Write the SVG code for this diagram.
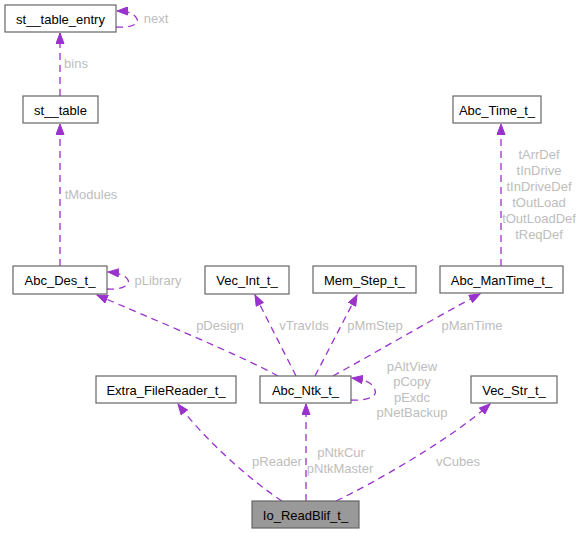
<svg xmlns="http://www.w3.org/2000/svg" width="581" height="533" viewBox="0 0 581 533">
<style>
.node rect{fill:#ffffff;stroke:#666666;stroke-width:1.2}
.node text{font-family:"Liberation Sans",Arial,sans-serif;font-size:13px;fill:#000000;text-anchor:middle}
#n_io rect{fill:#999999}
.edge{fill:none;stroke:#9a32cd;stroke-width:1.3;stroke-dasharray:7,5;marker-end:url(#ah)}
.lbl{font-family:"Liberation Sans",Arial,sans-serif;font-size:13px;fill:#bdbdbd;text-anchor:middle}
</style>
<defs>
<marker id="ah" markerUnits="userSpaceOnUse" markerWidth="12" markerHeight="9" refX="11" refY="4.5" orient="auto">
<path d="M0.5,0.5 L11,4.5 L0.5,8.5 z" fill="#9a32cd" stroke="#9a32cd" stroke-width="1"/>
</marker>
</defs>
<rect width="581" height="533" fill="#ffffff"/>
<g id="connectors">
<path class="edge" d="M60,96 L60,33"/>
<path class="edge" d="M116,27 C128,28 140,25 137,19 C135,14 129,11 117,11"/>
<path class="edge" d="M60,266 L60,124"/>
<path class="edge" d="M107,289 C119,290 131,286 128,280 C126,276 120,273 108,272"/>
<path class="edge" d="M278,376 C240,355 150,318 97,295"/>
<path class="edge" d="M296,376 L255,295"/>
<path class="edge" d="M315,376 L357,295"/>
<path class="edge" d="M333,376 C380,350 440,315 480,294"/>
<path class="edge" d="M501,266 L501,124"/>
<path class="edge" d="M351,400 C363,401 378,398 375,390 C373,383 366,380 352,378"/>
<path class="edge" d="M282,501 C250,480 205,440 178,404"/>
<path class="edge" d="M306,501 L306,404"/>
<path class="edge" d="M336,501 C370,485 450,440 490,404"/>
</g>
<g id="labels">
<text class="lbl" x="156" y="23">next</text>
<text class="lbl" x="76" y="68">bins</text>
<text class="lbl" x="91" y="199">tModules</text>
<text class="lbl" x="158" y="285">pLibrary</text>
<text class="lbl" x="220" y="330">pDesign</text>
<text class="lbl" x="304" y="330">vTravIds</text>
<text class="lbl" x="375" y="330">pMmStep</text>
<text class="lbl" x="472" y="330">pManTime</text>
<text class="lbl" x="539" y="159">tArrDef</text>
<text class="lbl" x="539" y="175">tInDrive</text>
<text class="lbl" x="539" y="191">tInDriveDef</text>
<text class="lbl" x="539" y="207">tOutLoad</text>
<text class="lbl" x="539" y="223">tOutLoadDef</text>
<text class="lbl" x="539" y="239">tReqDef</text>
<text class="lbl" x="412" y="371">pAltView</text>
<text class="lbl" x="412" y="386">pCopy</text>
<text class="lbl" x="412" y="402">pExdc</text>
<text class="lbl" x="412" y="417">pNetBackup</text>
<text class="lbl" x="277" y="466">pReader</text>
<text class="lbl" x="341" y="457">pNtkCur</text>
<text class="lbl" x="340" y="473">pNtkMaster</text>
<text class="lbl" x="458" y="466">vCubes</text>
</g>
<g id="n_entry" class="node"><rect x="5" y="5" width="111" height="27"/><text x="60.5" y="23.5">st__table_entry</text></g>
<g id="n_table" class="node"><rect x="23" y="96" width="75" height="27"/><text x="60.5" y="114.5">st__table</text></g>
<g id="n_des" class="node"><rect x="13" y="266" width="94" height="28"/><text x="60" y="284.5">Abc_Des_t_</text></g>
<g id="n_vecint" class="node"><rect x="205" y="266" width="84" height="28"/><text x="247" y="284.5">Vec_Int_t_</text></g>
<g id="n_mem" class="node"><rect x="313" y="266" width="103" height="27"/><text x="364.5" y="284.5">Mem_Step_t_</text></g>
<g id="n_mantime" class="node"><rect x="440" y="266" width="123" height="27"/><text x="501.5" y="284.5">Abc_ManTime_t_</text></g>
<g id="n_time" class="node"><rect x="453" y="96" width="88" height="27"/><text x="497" y="114.5">Abc_Time_t_</text></g>
<g id="n_reader" class="node"><rect x="96" y="376" width="140" height="27"/><text x="166" y="394.5">Extra_FileReader_t_</text></g>
<g id="n_ntk" class="node"><rect x="260" y="376" width="91" height="27"/><text x="305.5" y="394.5">Abc_Ntk_t_</text></g>
<g id="n_vecstr" class="node"><rect x="471" y="376" width="86" height="27"/><text x="514" y="394.5">Vec_Str_t_</text></g>
<g id="n_io" class="node"><rect x="252" y="501" width="107" height="27"/><text x="305.5" y="519.5">Io_ReadBlif_t_</text></g>
</svg>
